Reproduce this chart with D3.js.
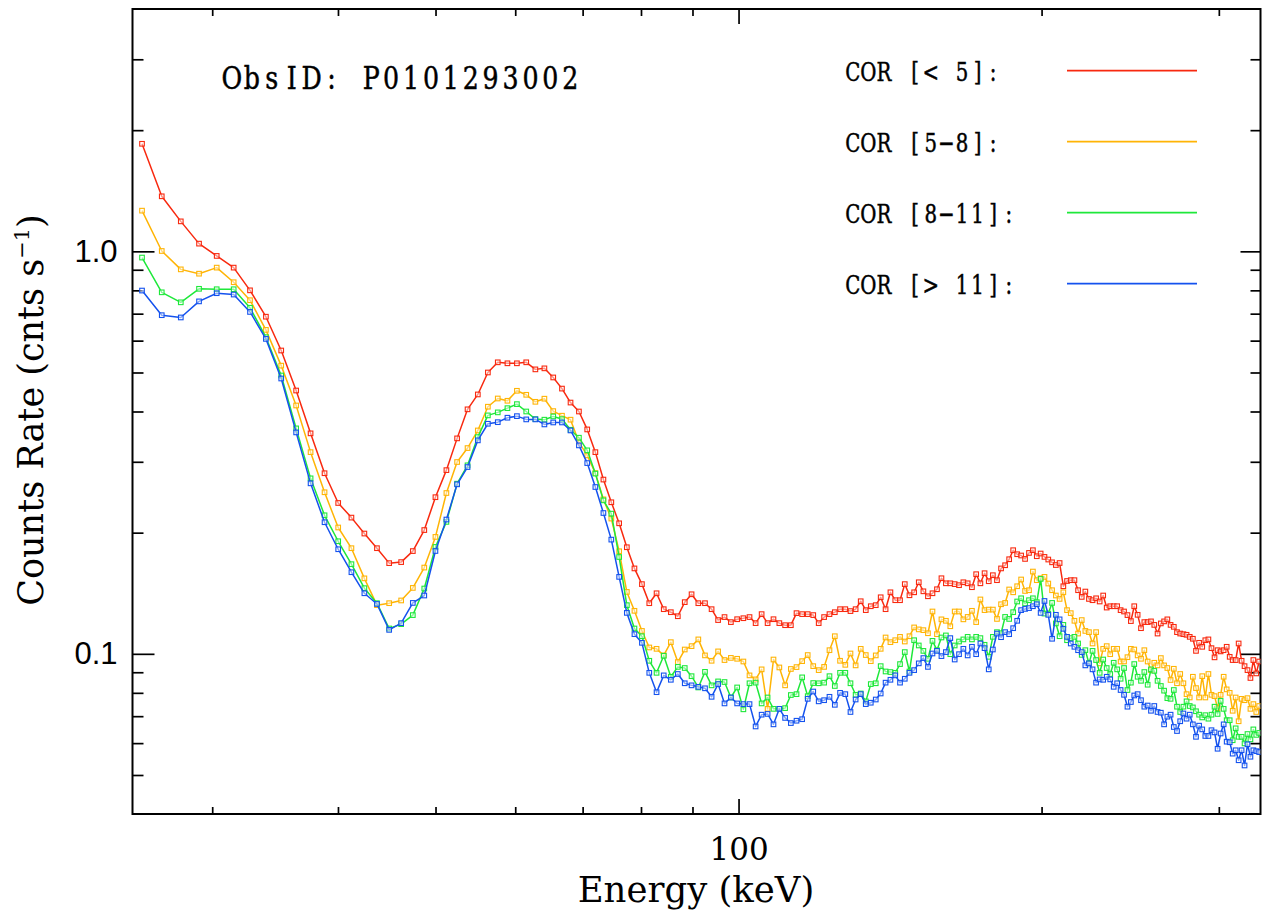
<!DOCTYPE html>
<html>
<head>
<meta charset="utf-8">
<title>COR background spectra</title>
<script src="https://cdn.jsdelivr.net/npm/d3@7/dist/d3.min.js"></script>
<style>
  html, body { margin: 0; padding: 0; background: #fff; }
  svg { display: block; }
</style>
</head>
<body>
<svg id="chart" width="1265" height="919"></svg>
<script>
// Energy bin centres (keV)
const energies = [
  25.55, 26.73, 27.92, 29.11, 30.31, 31.51, 32.71, 33.92, 35.13, 36.35,
  37.57, 38.79, 40.02, 41.25, 42.49, 43.73, 44.97, 46.22, 47.47, 48.73,
  49.99, 51.26, 52.53, 53.80, 55.08, 56.36, 57.65, 58.94, 60.23, 61.53,
  62.83, 64.14, 65.45, 66.77, 68.09, 69.41, 70.74, 72.07, 73.41, 74.75,
  76.10, 77.45, 78.81, 80.17, 81.53, 82.90, 84.27, 85.65, 87.03, 88.42,
  89.81, 91.21, 92.61, 94.02, 95.43, 96.84, 98.26, 99.68, 101.11, 102.54,
  103.98, 105.42, 106.87, 108.32, 109.78, 111.24, 112.71, 114.18, 115.66, 117.14,
  118.63, 120.12, 121.62, 123.12, 124.63, 126.14, 127.66, 129.18, 130.71, 132.24,
  133.78, 135.32, 136.87, 138.42, 139.98, 141.54, 143.11, 144.68, 146.26, 147.84,
  149.43, 151.02, 152.62, 154.22, 155.83, 157.44, 159.06, 160.68, 162.31, 163.95,
  165.59, 167.24, 168.89, 170.55, 172.21, 173.88, 175.55, 177.23, 178.91, 180.60,
  182.30, 184.00, 185.71, 187.42, 189.14, 190.86, 192.59, 194.33, 196.07, 197.82,
  199.57, 201.33, 203.09, 204.86, 206.64, 208.42, 210.21, 212.00, 213.80, 215.61,
  217.42, 219.24, 221.06, 222.89, 224.73, 226.57, 228.42, 230.27, 232.13, 234.00,
  235.87, 237.75, 239.63, 241.52, 243.42, 245.32, 247.23, 249.15, 251.07, 253.00,
  254.93, 256.87, 258.82, 260.77, 262.73, 264.70, 266.67, 268.65, 270.64, 272.63,
  274.63, 276.64, 278.65, 280.67, 282.70, 284.73, 286.77, 288.82, 290.87, 292.93,
  295.00, 297.07, 299.15, 301.24, 303.33, 305.43, 307.54, 309.65, 311.77, 313.90,
  316.04, 318.18, 320.33, 322.49, 324.65, 326.82, 329.00
];

// Count rates (cnts/s) per cut-off-rigidity band
const corBelow5 = [
  1.85, 1.37, 1.187, 1.045, 0.974, 0.911, 0.800, 0.688, 0.567, 0.451,
  0.353, 0.281, 0.237, 0.218, 0.199, 0.183, 0.168, 0.169, 0.180, 0.203,
  0.245, 0.286, 0.343, 0.405, 0.441, 0.500, 0.530, 0.527, 0.527, 0.530,
  0.509, 0.512, 0.486, 0.456, 0.421, 0.400, 0.361, 0.317, 0.271, 0.238,
  0.211, 0.184, 0.163, 0.149, 0.1336, 0.1414, 0.1291, 0.1269, 0.1240, 0.1344,
  0.1406, 0.1336, 0.1336, 0.1291, 0.1213, 0.1234, 0.1199, 0.1219, 0.1226, 0.1234,
  0.1192, 0.1255, 0.1192, 0.1219, 0.1192, 0.1178, 0.1178, 0.1262, 0.1255, 0.1255,
  0.1248, 0.1192, 0.1234, 0.1255, 0.1269, 0.1291, 0.1291, 0.1277, 0.1291, 0.1351,
  0.1284, 0.1313, 0.1321, 0.1382, 0.1291, 0.1422, 0.1359, 0.1359, 0.1490, 0.1398,
  0.1422, 0.1506, 0.1430, 0.1390, 0.1414, 0.1447, 0.1541, 0.1497, 0.1497, 0.1490,
  0.1481, 0.1506, 0.1497, 0.1464, 0.1577, 0.1497, 0.1586, 0.1515, 0.1568, 0.1524,
  0.1630, 0.1660, 0.1718, 0.1809, 0.1768, 0.1755, 0.1721, 0.1781, 0.1809, 0.1748,
  0.1775, 0.1741, 0.1715, 0.1688, 0.1662, 0.1681, 0.1472, 0.1517, 0.1524, 0.1524,
  0.1439, 0.1385, 0.1428, 0.1369, 0.1359, 0.1374, 0.1349, 0.1396, 0.1303, 0.1313,
  0.1313, 0.1313, 0.1284, 0.1274, 0.1248, 0.1206, 0.1313, 0.1250, 0.1158, 0.1199,
  0.1199, 0.1204, 0.1180, 0.1123, 0.1190, 0.1204, 0.1218, 0.1180, 0.1167, 0.1132,
  0.1123, 0.1119, 0.1115, 0.1102, 0.1090, 0.1017, 0.1065, 0.1041, 0.1081, 0.1086,
  0.1033, 0.0980, 0.1021, 0.1014, 0.1021, 0.1041, 0.0983, 0.0965, 0.0965, 0.1061,
  0.0961, 0.0932, 0.0911, 0.0871, 0.0965, 0.0894, 0.0957
];

const cor5to8 = [
  1.262, 1.002, 0.902, 0.880, 0.911, 0.838, 0.756, 0.638, 0.520, 0.414,
  0.317, 0.252, 0.206, 0.183, 0.154, 0.1321, 0.1336, 0.1357, 0.1458, 0.1638,
  0.1952, 0.2509, 0.2996, 0.3245, 0.3589, 0.4111, 0.4309, 0.4253, 0.4503, 0.4401,
  0.4228, 0.4304, 0.4009, 0.3905, 0.3817, 0.3358, 0.3112, 0.2812, 0.2420, 0.2168,
  0.1798, 0.1425, 0.1279, 0.1140, 0.1037, 0.1029, 0.0991, 0.1069, 0.0954, 0.1025,
  0.1045, 0.1086, 0.0991, 0.0961, 0.1014, 0.0965, 0.0977, 0.0972, 0.0957, 0.0884,
  0.0864, 0.0915, 0.0730, 0.0968, 0.0925, 0.0835, 0.0917, 0.0927, 0.0959, 0.0993,
  0.0932, 0.0911, 0.0928, 0.1021, 0.1106, 0.0961, 0.0939, 0.1002, 0.0936, 0.1029,
  0.0993, 0.0959, 0.0991, 0.1029, 0.1098, 0.1069, 0.1081, 0.1102, 0.1073, 0.1106,
  0.1163, 0.1150, 0.1145, 0.1125, 0.1274, 0.1119, 0.1218, 0.1208, 0.1171, 0.1274,
  0.1274, 0.1218, 0.1235, 0.1279, 0.1199, 0.1365, 0.1284, 0.1288, 0.1288, 0.1221,
  0.1328, 0.1338, 0.1445, 0.1422, 0.1472, 0.1530, 0.1433, 0.1439, 0.1601, 0.1524,
  0.1541, 0.1553, 0.1495, 0.1439, 0.1396, 0.1369, 0.1422, 0.1284, 0.1262, 0.1208,
  0.1123, 0.1213, 0.1140, 0.1132, 0.1061, 0.1132, 0.0947, 0.1029, 0.1045, 0.0998,
  0.1029, 0.1029, 0.0957, 0.0957, 0.0981, 0.1029, 0.1025, 0.0991, 0.0972, 0.1021,
  0.0957, 0.0911, 0.0950, 0.0936, 0.0976, 0.0936, 0.0922, 0.0861, 0.0918, 0.0845,
  0.0891, 0.0845, 0.0794, 0.0779, 0.0877, 0.0822, 0.0779, 0.0880, 0.0779, 0.0891,
  0.0791, 0.0785, 0.0733, 0.0791, 0.0877, 0.0816, 0.0800, 0.0722, 0.0779, 0.0680,
  0.0773, 0.0767, 0.0776, 0.0730, 0.0750, 0.0717, 0.0742
];

const cor8to11 = [
  0.965, 0.791, 0.747, 0.807, 0.805, 0.805, 0.724, 0.612, 0.4915, 0.3632,
  0.2729, 0.2209, 0.1904, 0.1670, 0.1456, 0.1336, 0.1156, 0.1185, 0.1248, 0.1453,
  0.1843, 0.2127, 0.2647, 0.2940, 0.3455, 0.3912, 0.3980, 0.4077, 0.4172, 0.4000,
  0.3830, 0.3817, 0.3889, 0.3830, 0.3603, 0.3443, 0.3203, 0.2804, 0.2406, 0.2230,
  0.1740, 0.1321, 0.1156, 0.1106, 0.0961, 0.0897, 0.0989, 0.0877, 0.0928, 0.0922,
  0.0880, 0.0825, 0.0902, 0.0835, 0.0854, 0.0851, 0.0779, 0.0825, 0.0728, 0.0845,
  0.0848, 0.0753, 0.0779, 0.0730, 0.0730, 0.0733, 0.0790, 0.0794, 0.0874, 0.0785,
  0.0846, 0.0845, 0.0848, 0.0880, 0.0832, 0.0897, 0.0897, 0.0845, 0.0791, 0.0797,
  0.0762, 0.0841, 0.0845, 0.0932, 0.0904, 0.0901, 0.0897, 0.0943, 0.1010, 0.0904,
  0.1081, 0.1049, 0.1017, 0.0972, 0.1077, 0.1021, 0.1098, 0.1111, 0.0998, 0.1049,
  0.1073, 0.1086, 0.1102, 0.1086, 0.1102, 0.1094, 0.1053, 0.0983, 0.1102, 0.1132,
  0.1125, 0.1235, 0.1221, 0.1269, 0.1349, 0.1374, 0.1334, 0.1359, 0.1374, 0.1344,
  0.1535, 0.1259, 0.1259, 0.1338, 0.1190, 0.1106, 0.1180, 0.1081, 0.1094, 0.1102,
  0.1061, 0.0994, 0.1021, 0.0947, 0.1017, 0.0965, 0.0897, 0.0968, 0.0922, 0.0891,
  0.0950, 0.0915, 0.0867, 0.0922, 0.0813, 0.0848, 0.0943, 0.0877, 0.0857, 0.0901,
  0.0838, 0.0915, 0.0907, 0.0857, 0.0832, 0.0810, 0.0776, 0.0773, 0.0813, 0.0739,
  0.0717, 0.0739, 0.0762, 0.0742, 0.0736, 0.0720, 0.0706, 0.0695, 0.0704, 0.0690,
  0.0706, 0.0739, 0.0709, 0.0764, 0.0730, 0.0684, 0.0684, 0.0610, 0.0653, 0.0622,
  0.0622, 0.0599, 0.0632, 0.0613, 0.0649, 0.0629, 0.0636
];

const corAbove11 = [
  0.799, 0.694, 0.685, 0.751, 0.787, 0.781, 0.707, 0.606, 0.4831, 0.3549,
  0.2652, 0.2123, 0.1819, 0.1595, 0.1414, 0.1330, 0.1147, 0.1192, 0.1338, 0.1396,
  0.1801, 0.2156, 0.2637, 0.2911, 0.3391, 0.3729, 0.3763, 0.3860, 0.3895, 0.3823,
  0.3823, 0.3715, 0.3757, 0.3757, 0.3589, 0.3295, 0.2978, 0.2597, 0.2238, 0.1922,
  0.1553, 0.1264, 0.1119, 0.1065, 0.0897, 0.0803, 0.0884, 0.0862, 0.0891, 0.0845,
  0.0835, 0.0828, 0.0821, 0.0782, 0.0841, 0.0753, 0.0779, 0.0753, 0.0750, 0.0750,
  0.0660, 0.0706, 0.0709, 0.0668, 0.0730, 0.0693, 0.0673, 0.0682, 0.0688, 0.0773,
  0.0806, 0.0762, 0.0767, 0.0782, 0.0747, 0.0800, 0.0794, 0.0717, 0.0770, 0.0794,
  0.0750, 0.0756, 0.0770, 0.0797, 0.0848, 0.0862, 0.0884, 0.0848, 0.0867, 0.0897,
  0.0911, 0.0947, 0.0976, 0.0928, 0.1002, 0.1017, 0.0987, 0.1010, 0.1094, 0.0968,
  0.0998, 0.1029, 0.0991, 0.1041, 0.0998, 0.1061, 0.1033, 0.0915, 0.1025, 0.1123,
  0.1100, 0.1132, 0.1119, 0.1158, 0.1208, 0.1284, 0.1293, 0.1299, 0.1313, 0.1328,
  0.1264, 0.1353, 0.1250, 0.1090, 0.1250, 0.1218, 0.1154, 0.1102, 0.1061, 0.1041,
  0.1021, 0.1010, 0.0936, 0.0947, 0.0915, 0.0848, 0.0864, 0.0862, 0.0877, 0.0864,
  0.0828, 0.0845, 0.0813, 0.0791, 0.0739, 0.0759, 0.0788, 0.0794, 0.0767, 0.0739,
  0.0744, 0.0722, 0.0742, 0.0717, 0.0714, 0.0668, 0.0698, 0.0706, 0.0658, 0.0643,
  0.0680, 0.0711, 0.0690, 0.0706, 0.0668, 0.0622, 0.0663, 0.0649, 0.0625, 0.0625,
  0.0646, 0.0638, 0.0581, 0.0634, 0.0668, 0.0605, 0.0603, 0.0565, 0.0576, 0.0544,
  0.0576, 0.0528, 0.0596, 0.0555, 0.0576, 0.0573, 0.0570
];

const seriesNames = ["COR [< 5]:", "COR [5\u22128]:", "COR [8\u221211]:", "COR [> 11]:"];
const seriesColors = ["#f8290f", "#ffb405", "#1ee83a", "#1452ee"];
const obsLabel = "ObsID: P0101293002";

const xDomain = [25, 330];
const yDomain = [0.04, 4];
const xMinorTicks = [30, 40, 50, 60, 70, 80, 90, 200, 300];
const xMajorTicks = [100];
const xTickLabels = ["100"];
const yMinorTicks = [0.05, 0.06, 0.07, 0.08, 0.09, 0.2, 0.3, 0.4, 0.5, 0.6, 0.7, 0.8, 0.9, 2, 3];
const yMajorTicks = [0.1, 1];
const yTickLabels = ["0.1", "1.0"];
const xTitle = "Energy (keV)";

// ---- layout ----
const plot = { left: 132.5, right: 1260.5, top: 9, bottom: 814 };
const svg = d3.select("#chart");

const x = d3.scaleLog().domain(xDomain).range([plot.left, plot.right]);
const y = d3.scaleLog().domain(yDomain).range([plot.bottom, plot.top]);

const serifFont = "'DejaVu Serif', serif";
const sansFont = "'Liberation Sans', Arial, sans-serif";

function tidy(g) {
  g.select(".domain").remove();
  g.selectAll(".tick line").attr("stroke", "#000").attr("stroke-width", 1.7);
}

// bottom axis
svg.append("g").attr("transform", `translate(0,${plot.bottom})`)
  .call(d3.axisBottom(x).tickValues(xMinorTicks).tickSize(-7).tickFormat(""))
  .call(tidy);
svg.append("g").attr("transform", `translate(0,${plot.bottom})`)
  .call(d3.axisBottom(x).tickValues(xMajorTicks).tickSize(-15).tickPadding(24)
    .tickFormat((d, i) => xTickLabels[i]))
  .call(tidy)
  .call(g => g.selectAll("text").attr("font-family", serifFont).attr("font-size", 31).attr("fill", "#000"));

// top axis
svg.append("g").attr("transform", `translate(0,${plot.top})`)
  .call(d3.axisTop(x).tickValues(xMinorTicks).tickSize(-7).tickFormat(""))
  .call(tidy);
svg.append("g").attr("transform", `translate(0,${plot.top})`)
  .call(d3.axisTop(x).tickValues(xMajorTicks).tickSize(-15).tickFormat(""))
  .call(tidy);

// left axis
svg.append("g").attr("transform", `translate(${plot.left},0)`)
  .call(d3.axisLeft(y).tickValues(yMinorTicks).tickSize(-11).tickFormat(""))
  .call(tidy);
svg.append("g").attr("transform", `translate(${plot.left},0)`)
  .call(d3.axisLeft(y).tickValues(yMajorTicks).tickSize(-22).tickPadding(15)
    .tickFormat((d, i) => yTickLabels[i]))
  .call(tidy)
  .call(g => g.selectAll("text").attr("font-family", sansFont).attr("font-size", 31).attr("fill", "#000"));

// right axis
svg.append("g").attr("transform", `translate(${plot.right},0)`)
  .call(d3.axisRight(y).tickValues(yMinorTicks).tickSize(-10).tickFormat(""))
  .call(tidy);
svg.append("g").attr("transform", `translate(${plot.right},0)`)
  .call(d3.axisRight(y).tickValues(yMajorTicks).tickSize(-20).tickFormat(""))
  .call(tidy);

// frame
svg.append("rect")
  .attr("x", plot.left).attr("y", plot.top)
  .attr("width", plot.right - plot.left).attr("height", plot.bottom - plot.top)
  .attr("fill", "none").attr("stroke", "#000").attr("stroke-width", 2);

// data
svg.append("clipPath").attr("id", "plotClip").append("rect")
  .attr("x", plot.left).attr("y", plot.top)
  .attr("width", plot.right - plot.left).attr("height", plot.bottom - plot.top);

const allSeries = [corBelow5, cor5to8, cor8to11, corAbove11];
const line = d3.line().x(d => x(d.e)).y(d => y(d.v));
const layer = svg.append("g").attr("clip-path", "url(#plotClip)");

allSeries.forEach((vals, s) => {
  const pts = energies.map((e, i) => ({ e, v: vals[i] }));
  const g = layer.append("g");
  g.append("path").datum(pts)
    .attr("d", line).attr("fill", "none")
    .attr("stroke", seriesColors[s]).attr("stroke-width", 1.5)
    .attr("stroke-linejoin", "round");
  g.selectAll("rect").data(pts).join("rect")
    .attr("x", d => x(d.e) - 2.3).attr("y", d => y(d.v) - 2.3)
    .attr("width", 4.6).attr("height", 4.6)
    .attr("fill", "#fff").attr("fill-opacity", 0.5)
    .attr("stroke", seriesColors[s]).attr("stroke-width", 1.1);
});

// fixed-pitch serif text: every character centred in its own cell
function pitchText(str, left, baseline, size, pitch, squeeze) {
  const t = svg.append("text")
    .attr("transform", `translate(${left},${baseline}) scale(${squeeze},1)`)
    .attr("font-family", serifFont).attr("font-size", size).attr("fill", "#000")
    .attr("stroke", "#000").attr("stroke-width", 0.5);
  Array.from(str).forEach((ch, i) => {
    t.append("tspan")
      .attr("x", ((i + 0.5) * pitch) / squeeze).attr("y", 0)
      .attr("text-anchor", "middle")
      .text(ch);
  });
  return t;
}

// observation label
pitchText(obsLabel, 222, 89, 32, 19.9, 0.79);

// legend
const legendRows = [70.7, 141.7, 212.7, 283.7];
seriesNames.forEach((name, i) => {
  pitchText(name, 845, legendRows[i] + 10, 26.5, 15.6, 0.745);
  svg.append("line")
    .attr("x1", 1067).attr("x2", 1197)
    .attr("y1", legendRows[i]).attr("y2", legendRows[i])
    .attr("stroke", seriesColors[i]).attr("stroke-width", 1.8);
});

// axis titles
svg.append("text")
  .attr("x", 696).attr("y", 902).attr("text-anchor", "middle")
  .attr("font-family", serifFont).attr("font-size", 35.5).attr("fill", "#000")
  .text(xTitle);

const yTitle = svg.append("text")
  .attr("transform", "translate(43,410) rotate(-90)")
  .attr("text-anchor", "middle")
  .attr("font-family", serifFont).attr("font-size", 35).attr("fill", "#000");
yTitle.append("tspan").text("Counts Rate (cnts s");
yTitle.append("tspan").attr("font-size", 21).attr("dy", -14).text("\u22121");
yTitle.append("tspan").attr("dy", 14).text(")");
</script>
</body>
</html>
